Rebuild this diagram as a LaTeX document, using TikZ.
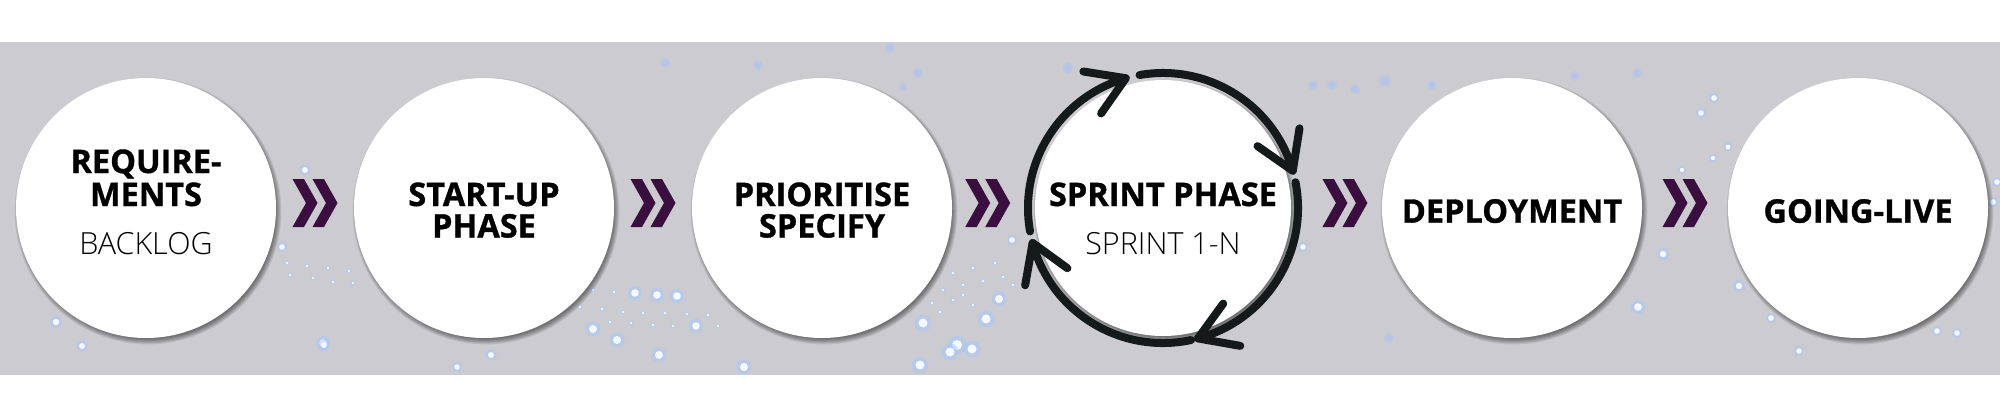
\documentclass[tikz,border=0pt]{standalone}
\usepackage{fontspec}
\setmainfont{Open Sans}[BoldFeatures={FakeBold=1}]
\IfFontExistsTF{Open Sans Light}{\newfontfamily\lightfont{Open Sans Light}}{\newfontfamily\lightfont{Open Sans}}
\usetikzlibrary{calc}
\definecolor{bandgray}{RGB}{204,204,208}
\definecolor{chev}{RGB}{58,14,62}
\definecolor{ringc}{RGB}{20,26,26}
\definecolor{dotcore}{RGB}{244,248,255}
\definecolor{dothalo}{RGB}{165,198,255}
\definecolor{dotfaint}{RGB}{175,195,240}
\pgfdeclarelayer{back}
\pgfdeclarelayer{shadow}
\pgfsetlayers{back,shadow,main}
\tikzset{
  chevpair/.pic={
    \fill[chev] (-22.5,24) -- (-11,24) -- (2.5,0) -- (-11,-24) -- (-22.5,-24) -- (-9,0) -- cycle;
    \fill[chev] (-2.5,24) -- (9,24) -- (22.5,0) -- (9,-24) -- (-2.5,-24) -- (11,0) -- cycle;
  }
}
\begin{document}
\begin{tikzpicture}[x=1pt,y=1pt,
  disc/.style={circle,fill=white,minimum size=260pt,inner sep=0pt},
  spdisc/.style={circle,fill=white,minimum size=256pt,inner sep=0pt},
  boldlbl/.style={font=\bfseries\fontsize{32.5}{32.5}\selectfont,inner sep=0pt,anchor=base,text=black},
  lightlbl/.style={font=\lightfont\fontsize{30.5}{30.5}\selectfont,inner sep=0pt,anchor=base,text=black},
  ringline/.style={line width=8pt,draw=ringc,line cap=round,line join=round},
  halo/.style={fill=dothalo,opacity=0.5},
  core/.style={fill=dotcore},
  faint/.style={fill=dotfaint,opacity=0.55}
]
\useasboundingbox (0,0) rectangle (2000,416);

\begin{pgfonlayer}{back}
  \fill[white] (0,0) rectangle (2000,416);
  \fill[bandgray] (0,41) rectangle (2000,374);
  % bright bokeh dots (x, y from top, radius)
  \foreach \x/\y/\r in {
    635/293/3.8, 657/295/3.8, 677/296/3.8, 593/329/4, 617/340/4, 659/355/4,
    696/326/3.8, 744/367/4, 923/323/4.5, 986/319/4.5, 999/299/4, 957/345/5,
    972/349/4.5, 950/352/4.5, 920/365/4.5,
    56/322/3.2, 82/346/3, 323/343/3.8, 305/170/3, 282/247/2.8, 324/345/3,
    491/355/3, 457/367/2.8,
    1701/113/2.8, 1714/98/2.8, 1728/147/2.5, 1713/158/2.2, 1682/170/2.2,
    1663/254/3.2, 1638/307/3.8, 1739/286/3.2, 1771/318/2.8, 1799/351/2.8,
    1937/331/2.8, 1957/333/2.8, 1997/182/2.8, 1993/202/2.8, 1303/247/2.8, 1012/240/2.8}
  {
    \fill[halo] (\x,416-\y) circle [radius=1.9*\r];
    \fill[core] (\x,416-\y) circle [radius=\r];
  }
  % small dots
  \foreach \x/\y in {
    602/309, 623/312, 643/313, 665/313, 687/314, 708/315, 610/322, 631/323,
    653/325, 673/326, 718/326, 580/307, 593/290, 614/292,
    943/290, 953/273, 963/285, 973/268, 983/281, 995/263, 1003/277, 1013/285,
    932/303, 940/312, 953/300, 963/295, 973/305,
    287/263, 307/266, 328/268, 349/271, 333/282, 313/278, 290/275, 353/283}
  {
    \fill[halo] (\x,416-\y) circle [radius=2.4];
    \fill[core] (\x,416-\y) circle [radius=1.3];
  }
  % faint blurred dots
  \foreach \x/\y/\r in {
    665/63/5, 758/65/5, 890/48/5, 918/73/5.5, 903/87/4.5, 1068/68/5.5,
    1313/85/5, 1332/85/5, 1355/89/5, 1385/81/6, 1432/85/5, 1575/76/5, 1637/73/5,
    1389/338/5}
  {
    \fill[faint] (\x,416-\y) circle [radius=\r];
    \fill[faint] (\x,416-\y) circle [radius=0.55*\r];
  }
\end{pgfonlayer}

% circles
\node[disc] (c1) at (146,208) {};
\node[disc] (c2) at (484,208) {};
\node[disc] (c3) at (822,208) {};
\node[spdisc] (sp) at (1163,208) {};
\node[disc] (c5) at (1512,208) {};
\node[disc] (c6) at (1858,208) {};

% soft drop shadows
\begin{pgfonlayer}{shadow}
  \foreach \n/\r in {c1/128, c2/128, c3/128, sp/126, c5/128, c6/128}
  {
    \foreach \k in {0,...,6}
      \fill[black,opacity=0.08] ($(\n.center)+(2,-3)$) circle [radius=\r+\k*0.9];
  }
\end{pgfonlayer}

% sprint cycle ring
\foreach \s/\e in {190/106, 100/16, 11/-75, -78/-165}
{
  \draw[ringline] ($(sp.center)+(\s:135)$) arc [start angle=\s, end angle=\e, radius=135];
  \draw[ringline] ($(sp.center)+(\e:135)$) ++(\e+97+32:43) -- ($(sp.center)+(\e:135)$) -- ++(\e+97-32:43);
}

% chevron connectors
\coordinate (a1) at ($(c1.east)!0.5!(c2.west)+(0,5)$);
\coordinate (a2) at ($(c2.east)!0.5!(c3.west)+(0,5)$);
\coordinate (a3) at ($(c3.east)!0.43!(sp.west)+(0,5)$);
\coordinate (a4) at ($(sp.east)!0.593!(c5.west)+(0,5)$);
\coordinate (a5) at ($(c5.east)!0.5!(c6.west)+(0,5)$);
\foreach \a in {a1,a2,a3,a4,a5} \pic at (\a) {chevpair};

% labels
\node[boldlbl] (t1a) at ($(c1.center)+(0,35)$) {REQUIRE-};
\node[boldlbl] (t1b) at ($(c1.center)+(0,2)$) {MENTS};
\node[lightlbl] (t1c) at ($(c1.center)+(0,-46)$) {BACKLOG};
\node[boldlbl] (t2a) at ($(c2.center)+(0,2)$) {START-UP};
\node[boldlbl] (t2b) at ($(c2.center)+(0,-29.5)$) {PHASE};
\node[boldlbl] (t3a) at ($(c3.center)+(0,2)$) {PRIORITISE};
\node[boldlbl] (t3b) at ($(c3.center)+(0,-29.5)$) {SPECIFY};
\node[boldlbl] (t4a) at ($(sp.center)+(0,2)$) {SPRINT PHASE};
\node[lightlbl] (t4b) at ($(sp.center)+(0,-46)$) {SPRINT 1-N};
\node[boldlbl] (t5) at ($(c5.center)+(0,-14.7)$) {DEPLOYMENT};
\node[boldlbl] (t6) at ($(c6.center)+(0,-14.7)$) {GOING-LIVE};
\end{tikzpicture}
\end{document}
